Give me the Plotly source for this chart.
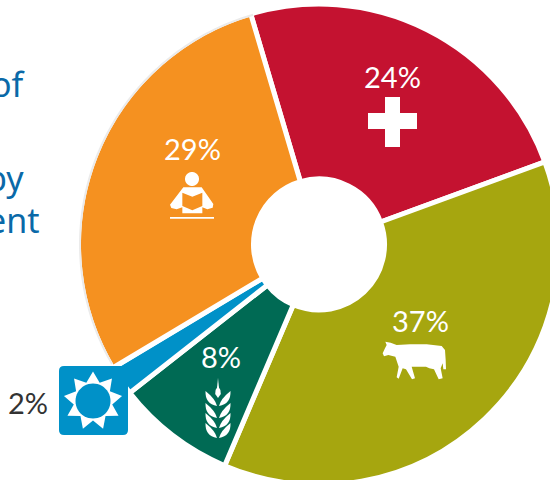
import math
import plotly.graph_objects as go

# Pie contents
categories = ["Health", "Livestock", "Crops", "Energy", "Education"]
shares = [24, 37, 8, 2, 29]
slice_colors = ["#c41230", "#a6a60f", "#006a54", "#0091c8", "#f59120"]
label_colors = ["#ffffff", "#ffffff", "#ffffff", "#333333", "#ffffff"]
side_text = ["of", "by", "ent"]

W, H = 638, 489
CX, CY, R = 319.0, 244.5, 240.5
HOLE_R = 65.5
BLUE_TEXT = "#0a69a8"


def fx(px):
    return px / W


def fy(py):
    return 1 - py / H


def path(points, closed=True):
    cmd = "M " + " L ".join(f"{fx(x):.5f},{fy(y):.5f}" for x, y in points)
    return cmd + (" Z" if closed else "")


def curve(start, segments):
    """Closed path of quadratic segments, each given as (ctrl, end), in page pixels."""
    s = f"M {fx(start[0]):.5f},{fy(start[1]):.5f}"
    for c, e in segments:
        s += f" Q {fx(c[0]):.5f},{fy(c[1]):.5f} {fx(e[0]):.5f},{fy(e[1]):.5f}"
    return s + " Z"


def disc(cx, cy, r, n=48):
    return path([(cx + r * math.cos(2 * math.pi * i / n),
                  cy + r * math.sin(2 * math.pi * i / n)) for i in range(n)])


def rounded_rect(x0, y0, x1, y1, r):
    return (
        f"M {fx(x0 + r):.5f},{fy(y0):.5f}"
        f" L {fx(x1 - r):.5f},{fy(y0):.5f}"
        f" Q {fx(x1):.5f},{fy(y0):.5f} {fx(x1):.5f},{fy(y0 + r):.5f}"
        f" L {fx(x1):.5f},{fy(y1 - r):.5f}"
        f" Q {fx(x1):.5f},{fy(y1):.5f} {fx(x1 - r):.5f},{fy(y1):.5f}"
        f" L {fx(x0 + r):.5f},{fy(y1):.5f}"
        f" Q {fx(x0):.5f},{fy(y1):.5f} {fx(x0):.5f},{fy(y1 - r):.5f}"
        f" L {fx(x0):.5f},{fy(y0 + r):.5f}"
        f" Q {fx(x0):.5f},{fy(y0):.5f} {fx(x0 + r):.5f},{fy(y0):.5f} Z"
    )


def filled(d, color):
    return dict(type="path", xref="paper", yref="paper", path=d,
                fillcolor=color, line=dict(width=0), layer="above")


def zoomed(points, ox, oy):
    return [(ox + x / 3, oy + y / 3) for x, y in points]


shapes = []

# Pale rim along the outside of the orange slice
rim_r = R - 1.5
rim = [(CX + rim_r * math.sin(math.radians(a)), CY - rim_r * math.cos(math.radians(a)))
       for a in range(240, 345)]
shapes.append(dict(type="path", xref="paper", yref="paper", path=path(rim, closed=False),
                   fillcolor="rgba(0,0,0,0)", line=dict(color="#ebebeb", width=2),
                   layer="above"))

# Sun badge
shapes.append(filled(rounded_rect(59, 366, 128, 435, 5), slice_colors[3]))
sun_points = []
for i in range(18):
    a = math.radians(-90 + i * 20)
    r = 29.5 if i % 2 == 0 else 19.5
    sun_points.append((93 + r * math.cos(a), 401 + r * math.sin(a)))
shapes.append(filled(path(sun_points), "#ffffff"))
shapes.append(filled(disc(93, 401, 17.5), slice_colors[3]))

# Cross
shapes.append(filled(path([(385, 97), (400, 97), (400, 113), (417, 113), (417, 129),
                           (400, 129), (400, 147), (385, 147), (385, 129), (368, 129),
                           (368, 113), (385, 113)]), "#ffffff"))

# Reader at a desk
shapes.append(filled(disc(192, 179, 7), "#ffffff"))
shapes.append(filled(path(zoomed([(100, 172), (155, 172), (190, 222), (188, 233), (172, 238),
                                  (157, 232), (157, 250), (97, 250), (97, 232), (80, 238),
                                  (64, 234), (60, 224)], 150, 130)), "#ffffff"))
shapes.append(filled(path(zoomed([(97, 188), (127, 200), (157, 188), (157, 228), (127, 241),
                                  (97, 228)], 150, 130)), slice_colors[4]))
shapes.append(filled(path([(170, 217), (214, 217), (214, 218.8), (170, 218.8)]), "#ffffff"))

# Cow
shapes.append(filled(path(zoomed([(38, 160), (45, 145), (50, 135), (46, 125), (62, 128), (80, 135),
                                  (120, 133), (170, 133), (215, 138), (225, 150), (227, 180),
                                  (228, 208), (220, 208), (218, 190), (212, 205), (218, 235),
                                  (206, 238), (192, 208), (178, 205), (168, 200), (125, 200),
                                  (135, 235), (126, 238), (108, 208), (98, 205), (86, 236),
                                  (80, 232), (86, 200), (76, 170), (55, 165), (42, 169)],
                                 370, 300)), "#ffffff"))

# Wheat ear
stem_x = 218.0
shapes.append(filled(path([(stem_x, 378), (stem_x + 1, 388), (stem_x - 1, 388)]), "#ffffff"))
shapes.append(filled(path([(stem_x, 386), (stem_x + 2.4, 390), (stem_x + 2.8, 394),
                           (stem_x, 398), (stem_x - 2.8, 394), (stem_x - 2.4, 390)]), "#ffffff"))
for tip_y in [391, 403, 413, 423]:
    for side in (-1, 1):
        tip = (stem_x + side * 12.5, tip_y)
        base = (stem_x + side * 1.0, tip_y + 15)
        shapes.append(filled(curve(tip, [((stem_x + side * 13, tip_y + 13), base),
                                         ((stem_x + side * 2.5, tip_y + 8), tip)]), "#ffffff"))

# Value labels, placed inside their slices
label_pos = [(392, 76), (420, 320), (221, 356), (28, 402), (192, 148)]
annotations = [
    dict(text=f"{v}%", x=fx(x), y=fy(y), xref="paper", yref="paper",
         xanchor="center", yanchor="middle", showarrow=False,
         font=dict(family="Lato", size=29, color=c, weight=400))
    for v, (x, y), c in zip(shares, label_pos, label_colors)
]

# Ends of the wrapped caption at the left edge
for t, (x, y) in zip(side_text, [(28, 84), (26, 178), (41, 220)]):
    annotations.append(dict(text=t, x=fx(x), y=fy(y), xref="paper", yref="paper",
                            xanchor="right", yanchor="middle", showarrow=False,
                            font=dict(family="Noto Sans", size=34, color=BLUE_TEXT)))

fig = go.Figure(go.Pie(
    labels=categories,
    values=shares,
    sort=False,
    direction="clockwise",
    rotation=343.5,
    hole=HOLE_R / R,
    textinfo="none",
    showlegend=False,
    marker=dict(colors=slice_colors, line=dict(color="#ffffff", width=5)),
    domain=dict(x=[fx(CX - R), fx(CX + R)], y=[fy(CY + R), fy(CY - R)]),
))

fig.update_layout(
    width=W, height=H,
    margin=dict(l=0, r=0, t=0, b=0),
    paper_bgcolor="#ffffff",
    plot_bgcolor="#ffffff",
    shapes=shapes,
    annotations=annotations,
)

fig.write_html(
    "out.html",
    config=dict(displayModeBar=False),
    post_script="document.documentElement.style.overflow='hidden';document.body.style.overflow='hidden';",
)
